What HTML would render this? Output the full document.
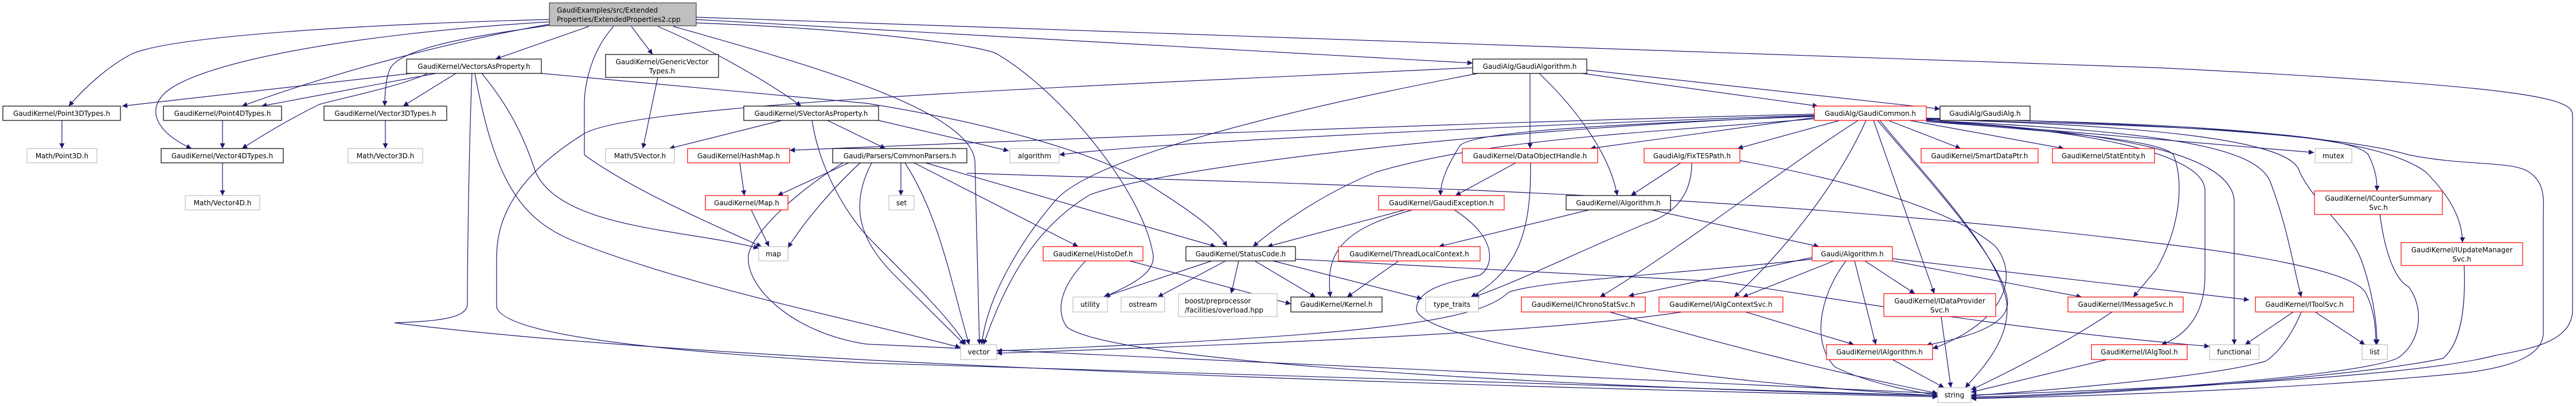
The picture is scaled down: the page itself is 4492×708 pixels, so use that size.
<!DOCTYPE html>
<html><head><meta charset="utf-8"><style>
html,body{margin:0;padding:0;background:#fff;}
svg{display:block;}
text{font-family:"DejaVu Sans","Liberation Sans",sans-serif;font-size:12px;fill:#000;}
.e{fill:none;stroke:#191970;stroke-width:1.2;}
.nb{fill:#fff;stroke:#000;stroke-width:1.2;}
.nr{fill:#fff;stroke:#ff0000;stroke-width:1.2;}
.ng{fill:#fff;stroke:#bfbfbf;stroke-width:1.2;}
</style></head><body>
<svg width="4492" height="708" viewBox="0 0 4492 708" xmlns="http://www.w3.org/2000/svg">
<defs><marker id="a" viewBox="0 0 10 10" refX="10" refY="5" markerWidth="11" markerHeight="9" markerUnits="userSpaceOnUse" orient="auto"><path d="M0,0 L10,5 L0,10 z" fill="#191970"/></marker></defs>
<g class="e" marker-end="url(#a)">
<!-- types -->
<path d="M108,210 L108,259"/>
<path d="M388,210 L388,259"/>
<path d="M388,284 L388,341"/>
<path d="M672,210 L672,259"/>
<!-- top -->
<path d="M959,34 C700,40 300,60 228,95 C190,115 150,150 120,185"/>
<path d="M959,38 C600,60 350,110 290,160 C250,195 280,235 334,259"/>
<path d="M959,42 C800,70 600,120 422,185"/>
<path d="M959,44 C850,60 700,80 680,120 C672,140 671,165 671,185"/>
<path d="M1027,46 L864,103"/>
<path d="M1101,46 L1138,95"/>
<path d="M1070,46 C1030,90 1019,150 1019,180 L1019,270 C1100,330 1250,395 1328,430"/>
<path d="M1147,46 C1250,90 1350,150 1397,185"/>
<path d="M1174,46 C1400,110 1690,190 1700,280 L1708,601"/>
<path d="M1214,30 L3760,118 C4400,150 4486,170 4486,200 L4486,540 C4486,600 4400,610 4350,620 C4200,660 3700,680 3437,689"/>
<path d="M1214,34 L2568,110"/>
<path d="M1214,40 C1500,50 1720,80 1740,95 C1850,160 1990,330 2010,440 C2020,480 1960,500 1927,518"/>
<!-- GaudiAlgorithm -->
<path d="M2668,128 L2668,259"/>
<path d="M2684,128 C2760,200 2810,280 2820,341"/>
<path d="M2759,128 L3170,185"/>
<path d="M2767,122 L3383,190"/>
<path d="M2577,128 C2200,200 1900,280 1840,350 C1780,420 1720,520 1712,601"/>
<path d="M2568,118 C1900,150 1100,180 1017,234 C880,320 866,400 866,451 L866,536 C880,580 1100,610 1510,633 L3379,690"/>
<!-- VectorsAsProperty -->
<path d="M717,128 L213,185"/>
<path d="M760,128 L456,185"/>
<path d="M746,128 C700,150 600,170 557,182 C500,210 460,235 422,259"/>
<path d="M795,128 L703,185"/>
<path d="M840,128 C900,200 920,260 934,300 C980,400 1200,400 1323,433"/>
<path d="M828,128 C860,300 900,380 1000,420 C1200,500 1500,560 1675,606"/>
<path d="M823,128 C818,250 815,450 815,530 C815,556 760,560 688,563 C900,590 1500,650 3379,692"/>
<path d="M944,128 L1510,180 C1700,210 1900,260 2000,320 C2080,370 2120,400 2140,430"/>
<!-- GVT / SVAP -->
<path d="M1147,135 L1121,259"/>
<path d="M1363,210 L1167,259"/>
<path d="M1443,210 L1544,259"/>
<path d="M1532,210 L1759,263"/>
<path d="M1416,210 C1430,300 1480,380 1520,420 C1600,500 1660,560 1684,601"/>
<!-- CommonParsers -->
<path d="M1571,284 L1571,341"/>
<path d="M1480,284 L1356,341"/>
<path d="M1500,284 C1450,330 1400,390 1374,432"/>
<path d="M1578,284 C1640,380 1660,500 1690,601"/>
<path d="M1520,284 C1480,360 1500,420 1560,480 L1682,601"/>
<path d="M1614,284 L2120,430"/>
<path d="M1594,284 L1880,430"/>
<path d="M1686,302 C2200,320 3000,330 3760,424 C3900,440 4100,470 4125,510 C4140,540 4143,570 4143,601"/>
<path d="M1470,284 C1380,340 1310,410 1305,446 C1300,500 1380,580 1510,600 L3379,686"/>
<path d="M1290,284 L1298,341"/>
<path d="M1310,366 L1341,430"/>
<!-- HistoDef / StatusCode -->
<path d="M1970,455 L2251,530"/>
<path d="M1893,455 C1850,500 1840,540 1860,570 C1950,640 2900,680 3379,690"/>
<path d="M2113,455 L1924,518"/>
<path d="M2137,455 L2019,518"/>
<path d="M2160,455 L2147,512"/>
<path d="M2188,455 L2294,518"/>
<path d="M2220,455 L2480,521"/>
<path d="M2259,452 L3000,491 C3200,520 3500,575 3853,604"/>
<!-- GaudiException / DOH / TLC / Algorithm -->
<path d="M2463,366 C2340,400 2310,440 2320,518"/>
<path d="M2450,366 L2210,430"/>
<path d="M2536,366 C2620,420 2600,470 2580,480 C2540,490 2470,500 2470,540 C2480,600 3000,670 3379,690"/>
<path d="M2643,284 L2538,341"/>
<path d="M2669,284 C2670,400 2650,470 2565,518"/>
<path d="M2439,455 L2349,518"/>
<path d="M2771,366 L2509,430"/>
<path d="M2880,366 L3172,430"/>
<path d="M2931,284 L2844,341"/>
<path d="M2950,284 C2950,330 2930,370 2870,390 C2750,440 2650,490 2570,518"/>
<path d="M3034,280 C3200,310 3400,360 3480,430 C3520,480 3500,560 3370,608"/>
<!-- Gaudi/Algorithm -->
<path d="M3198,455 L3039,518"/>
<path d="M3252,455 L3339,512"/>
<path d="M3234,455 L3271,601"/>
<path d="M3219,455 C3170,520 3160,600 3200,640 C3260,670 3350,685 3379,689"/>
<path d="M3300,455 L3630,518"/>
<path d="M3300,451 L3922,523"/>
<path d="M3160,449 L2840,516"/>
<path d="M3160,452 C2900,480 2680,490 2630,510 C2580,560 2400,585 1738,612"/>
<path d="M2933,544 C2700,580 2200,600 1738,616"/>
<!-- interfaces -> string etc -->
<path d="M3044,544 L3233,601"/>
<path d="M2807,544 C3000,600 3200,650 3379,686"/>
<path d="M3385,552 L3402,676"/>
<path d="M3300,627 L3390,676"/>
<path d="M3683,544 C3600,600 3500,650 3437,680"/>
<path d="M3674,627 L3437,684"/>
<path d="M3999,544 L3915,601"/>
<path d="M4037,544 L4124,601"/>
<path d="M4013,544 C3990,600 3960,625 3950,630 C3850,660 3500,686 3437,690"/>
<path d="M4150,374 C4160,450 4180,490 4200,500 C4230,540 4220,600 4180,625 C4100,660 3600,690 3437,692"/>
<path d="M4297,463 C4300,540 4290,600 4260,625 C4100,660 3600,692 3437,694"/>
<!-- GaudiCommon -->
<path d="M3164,199 C2500,215 1800,245 1377,262"/>
<path d="M3164,201 C2600,220 2000,250 1847,270"/>
<path d="M3164,205 L2773,259"/>
<path d="M3164,203 C2700,220 2560,235 2545,255 C2530,280 2512,310 2512,341"/>
<path d="M3164,207 C2900,230 2600,240 2400,300 C2300,340 2220,400 2185,430"/>
<path d="M3164,202 C2500,230 2000,300 1900,340 C1800,400 1750,500 1715,601"/>
<path d="M3208,210 L3030,259"/>
<path d="M3293,210 L3419,259"/>
<path d="M3330,210 L3599,259"/>
<path d="M3240,210 C3100,300 2950,420 2790,518"/>
<path d="M3254,210 C3200,330 3100,450 3024,518"/>
<path d="M3267,210 L3373,512"/>
<path d="M3274,210 C3350,300 3490,450 3500,520 C3510,570 3420,590 3359,602"/>
<path d="M3278,210 C3350,300 3500,450 3500,540 C3500,600 3450,650 3427,676"/>
<path d="M3359,212 C3600,230 3770,245 3790,270 C3810,320 3800,400 3760,470 L3720,518"/>
<path d="M3359,212 C3650,225 3840,270 3845,330 L3845,480 C3845,560 3800,590 3769,601"/>
<path d="M3359,210 C3700,230 3890,270 3896,350 L3896,601"/>
<path d="M3359,210 C3800,230 3940,260 3960,320 C3990,400 4000,470 4013,518"/>
<path d="M3359,208 C3800,220 4000,250 4010,300 C4040,360 4100,400 4120,460 C4140,520 4145,570 4145,601"/>
<path d="M3359,209 L4035,266"/>
<path d="M3359,208 C3800,220 4100,230 4130,270 C4145,300 4145,320 4145,333"/>
<path d="M3359,207 C3900,215 4150,240 4230,300 C4280,350 4294,390 4294,423"/>
<path d="M3359,206 C3800,215 4100,240 4200,270 C4300,290 4380,280 4410,300 C4440,320 4435,350 4435,380 L4435,580 C4435,620 4380,640 4300,650 C4000,680 3600,692 3437,695"/>
</g>
<!-- nodes -->
<g>
<rect x="958" y="5" width="256" height="40" fill="#bfbfbf" stroke="#404040" stroke-width="1.2"/>
<text x="971" y="22">GaudiExamples/src/Extended</text>
<text x="971" y="38">Properties/ExtendedProperties2.cpp</text>

<rect class="nb" x="709" y="103" width="235" height="25"/><text x="826.5" y="120" text-anchor="middle">GaudiKernel/VectorsAsProperty.h</text>
<rect class="nb" x="1056" y="95" width="197" height="40"/><text x="1154.5" y="112" text-anchor="middle">GaudiKernel/GenericVector</text><text x="1154.5" y="128" text-anchor="middle">Types.h</text>
<rect class="nb" x="2568" y="103" width="199" height="25"/><text x="2667.5" y="120" text-anchor="middle">GaudiAlg/GaudiAlgorithm.h</text>

<rect class="nb" x="5" y="185" width="205" height="25"/><text x="107.5" y="202" text-anchor="middle">GaudiKernel/Point3DTypes.h</text>
<rect class="nb" x="285" y="185" width="206" height="25"/><text x="388" y="202" text-anchor="middle">GaudiKernel/Point4DTypes.h</text>
<rect class="nb" x="565" y="185" width="214" height="25"/><text x="672" y="202" text-anchor="middle">GaudiKernel/Vector3DTypes.h</text>
<rect class="nb" x="1297" y="185" width="235" height="25"/><text x="1414.5" y="202" text-anchor="middle">GaudiKernel/SVectorAsProperty.h</text>
<rect class="nr" x="3164" y="185" width="195" height="25"/><text x="3261.5" y="202" text-anchor="middle">GaudiAlg/GaudiCommon.h</text>
<rect class="nb" x="3383" y="185" width="157" height="25"/><text x="3461.5" y="202" text-anchor="middle">GaudiAlg/GaudiAlg.h</text>

<rect class="ng" x="47" y="259" width="122" height="25"/><text x="108" y="276" text-anchor="middle">Math/Point3D.h</text>
<rect class="nb" x="281" y="259" width="213" height="25"/><text x="387.5" y="276" text-anchor="middle">GaudiKernel/Vector4DTypes.h</text>
<rect class="ng" x="607" y="259" width="130" height="25"/><text x="672" y="276" text-anchor="middle">Math/Vector3D.h</text>
<rect class="ng" x="1056" y="259" width="120" height="25"/><text x="1116" y="276" text-anchor="middle">Math/SVector.h</text>
<rect class="nr" x="1199" y="259" width="178" height="25"/><text x="1288" y="276" text-anchor="middle">GaudiKernel/HashMap.h</text>
<rect class="nb" x="1452" y="259" width="234" height="25"/><text x="1569" y="276" text-anchor="middle">Gaudi/Parsers/CommonParsers.h</text>
<rect class="ng" x="1761" y="259" width="86" height="25"/><text x="1804" y="276" text-anchor="middle">algorithm</text>
<rect class="nr" x="2550" y="259" width="236" height="25"/><text x="2668" y="276" text-anchor="middle">GaudiKernel/DataObjectHandle.h</text>
<rect class="nr" x="2867" y="259" width="167" height="25"/><text x="2950.5" y="276" text-anchor="middle">GaudiAlg/FixTESPath.h</text>
<rect class="nr" x="3350" y="259" width="204" height="25"/><text x="3452" y="276" text-anchor="middle">GaudiKernel/SmartDataPtr.h</text>
<rect class="nr" x="3579" y="259" width="178" height="25"/><text x="3668" y="276" text-anchor="middle">GaudiKernel/StatEntity.h</text>
<rect class="ng" x="4037" y="259" width="64" height="25"/><text x="4069" y="276" text-anchor="middle">mutex</text>

<rect class="ng" x="323" y="341" width="130" height="25"/><text x="388" y="358" text-anchor="middle">Math/Vector4D.h</text>
<rect class="nr" x="1230" y="341" width="144" height="25"/><text x="1302" y="358" text-anchor="middle">GaudiKernel/Map.h</text>
<rect class="ng" x="1550" y="341" width="44" height="25"/><text x="1572" y="358" text-anchor="middle">set</text>
<rect class="nr" x="2404" y="341" width="219" height="25"/><text x="2513.5" y="358" text-anchor="middle">GaudiKernel/GaudiException.h</text>
<rect class="nb" x="2731" y="341" width="182" height="25"/><text x="2822" y="358" text-anchor="middle">GaudiKernel/Algorithm.h</text>
<rect class="nr" x="4036" y="333" width="223" height="41"/><text x="4147.5" y="350" text-anchor="middle">GaudiKernel/ICounterSummary</text><text x="4147.5" y="366" text-anchor="middle">Svc.h</text>

<rect class="ng" x="1323" y="430" width="51" height="25"/><text x="1348.5" y="447" text-anchor="middle">map</text>
<rect class="nr" x="1819" y="430" width="174" height="25"/><text x="1906" y="447" text-anchor="middle">GaudiKernel/HistoDef.h</text>
<rect class="nb" x="2068" y="430" width="191" height="25"/><text x="2163.5" y="447" text-anchor="middle">GaudiKernel/StatusCode.h</text>
<rect class="nr" x="2334" y="430" width="247" height="25"/><text x="2457.5" y="447" text-anchor="middle">GaudiKernel/ThreadLocalContext.h</text>
<rect class="nr" x="3160" y="430" width="140" height="25"/><text x="3230" y="447" text-anchor="middle">Gaudi/Algorithm.h</text>
<rect class="nr" x="4187" y="423" width="212" height="40"/><text x="4293" y="440" text-anchor="middle">GaudiKernel/IUpdateManager</text><text x="4293" y="456" text-anchor="middle">Svc.h</text>

<rect class="ng" x="1871" y="518" width="60" height="26"/><text x="1901" y="535" text-anchor="middle">utility</text>
<rect class="ng" x="1955" y="518" width="76" height="26"/><text x="1993" y="535" text-anchor="middle">ostream</text>
<rect class="ng" x="2055" y="512" width="172" height="40"/><text x="2066" y="529">boost/preprocessor</text><text x="2066" y="545">/facilities/overload.hpp</text>
<rect class="nb" x="2251" y="518" width="159" height="26"/><text x="2330.5" y="535" text-anchor="middle">GaudiKernel/Kernel.h</text>
<rect class="ng" x="2486" y="518" width="92" height="26"/><text x="2532" y="535" text-anchor="middle">type_traits</text>
<rect class="nr" x="2653" y="518" width="216" height="26"/><text x="2761" y="535" text-anchor="middle">GaudiKernel/IChronoStatSvc.h</text>
<rect class="nr" x="2893" y="518" width="216" height="26"/><text x="3001" y="535" text-anchor="middle">GaudiKernel/IAlgContextSvc.h</text>
<rect class="nr" x="3285" y="512" width="195" height="40"/><text x="3382.5" y="529" text-anchor="middle">GaudiKernel/IDataProvider</text><text x="3382.5" y="545" text-anchor="middle">Svc.h</text>
<rect class="nr" x="3606" y="518" width="201" height="26"/><text x="3706.5" y="535" text-anchor="middle">GaudiKernel/IMessageSvc.h</text>
<rect class="nr" x="3933" y="518" width="171" height="26"/><text x="4018.5" y="535" text-anchor="middle">GaudiKernel/IToolSvc.h</text>

<rect class="ng" x="1675" y="601" width="63" height="26"/><text x="1706.5" y="618" text-anchor="middle">vector</text>
<rect class="nr" x="3185" y="601" width="185" height="26"/><text x="3277.5" y="618" text-anchor="middle">GaudiKernel/IAlgorithm.h</text>
<rect class="nr" x="3647" y="601" width="167" height="26"/><text x="3730.5" y="618" text-anchor="middle">GaudiKernel/IAlgTool.h</text>
<rect class="ng" x="3853" y="601" width="86" height="26"/><text x="3896" y="618" text-anchor="middle">functional</text>
<rect class="ng" x="4119" y="601" width="44" height="26"/><text x="4141" y="618" text-anchor="middle">list</text>

<rect class="ng" x="3379" y="676" width="58" height="26"/><text x="3408" y="693" text-anchor="middle">string</text>
</g>
</svg>
</body></html>
